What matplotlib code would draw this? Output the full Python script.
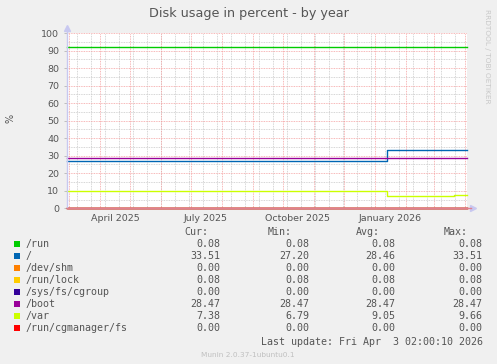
import datetime as dt
import matplotlib
matplotlib.use("Agg")
import matplotlib.pyplot as plt

# --- data ---
t_end = dt.datetime(2026, 4, 3, 2, 0, 10)
t_start = t_end - dt.timedelta(days=400)
t_step = dt.datetime(2026, 1, 13)
t_var2 = dt.datetime(2026, 3, 21)

names = ["/run", "/", "/dev/shm", "/run/lock", "/sys/fs/cgroup", "/boot", "/var", "/run/cgmanager/fs"]
colors = ["#00CC00", "#0066B3", "#FF8000", "#FFCC00", "#330099", "#990099", "#CCFF00", "#FF0000"]

series_t = [
    [t_start, t_end],
    [t_start, t_step, t_end],
    [t_start, t_end],
    [t_start, t_end],
    [t_start, t_end],
    [t_start, t_end],
    [t_start, t_step, t_var2, t_end],
    [t_start, t_end],
]
series_v = [
    [92.0, 92.0],
    [27.2, 33.51, 33.51],
    [0.0, 0.0],
    [0.08, 0.08],
    [0.0, 0.0],
    [28.47, 28.47],
    [9.66, 6.79, 7.38, 7.38],
    [0.0, 0.0],
]

cur = ["0.08", "33.51", "0.00", "0.08", "0.00", "28.47", "7.38", "0.00"]
vmin = ["0.08", "27.20", "0.00", "0.08", "0.00", "28.47", "6.79", "0.00"]
vavg = ["0.08", "28.46", "0.00", "0.08", "0.00", "28.47", "9.05", "0.00"]
vmax = ["0.08", "33.51", "0.00", "0.08", "0.00", "28.47", "9.66", "0.00"]

x_labels = ["April 2025", "July 2025", "October 2025", "January 2026"]
x_label_dates = [dt.datetime(2025, 4, 16), dt.datetime(2025, 7, 16),
                 dt.datetime(2025, 10, 16), dt.datetime(2026, 1, 16)]

W, H = 497, 364
fig = plt.figure(figsize=(W / 100, H / 100), dpi=100)
fig.patch.set_facecolor("#F0F0F0")

x0, x1, y0, y1 = 67, 467, 208.3, 33.0
ax = fig.add_axes([x0 / W, 1 - y0 / H, (x1 - x0) / W, (y0 - y1) / H])
ax.set_facecolor("white")
ax.set_xlim(t_start, t_end)
ax.set_ylim(0, 100)

txt = "#555555"
mono = "DejaVu Sans Mono"

# grid: minor grey, major red, both dotted
month_starts = [dt.datetime(2025 + (m - 1) // 12, (m - 1) % 12 + 1, 1) for m in range(3, 17)]
biweek = []
d = dt.datetime(2026, 3, 22)
while d > t_start:
    biweek.append(d)
    d -= dt.timedelta(days=14)
for d in biweek:
    ax.axvline(d, color="#C8C8C8", lw=0.6, ls=(0, (1, 1)), zorder=1)
for v in range(5, 100, 10):
    ax.axhline(v, color="#C8C8C8", lw=0.6, ls=(0, (1, 1)), zorder=1)
for d in month_starts:
    if t_start < d < t_end:
        ax.axvline(d, color="#F5A0A0", lw=0.6, ls=(0, (1, 1)), zorder=1)
for v in range(10, 101, 10):
    ax.axhline(v, color="#F5A0A0", lw=0.6, ls=(0, (1, 1)), zorder=1)

for t, v, c in zip(series_t, series_v, colors):
    ax.plot(t, v, color=c, lw=1.0, drawstyle="steps-post", zorder=3, clip_on=False)

for s in ax.spines.values():
    s.set_visible(False)
ax.plot([0, 0], [0, 1.02], transform=ax.transAxes, color="#C8C8F0", lw=1, clip_on=False, zorder=4)
ax.plot([0, 1.01], [0, 0], transform=ax.transAxes, color="#E08090", lw=1, clip_on=False, zorder=4)
ax.plot([0], [1.03], marker="^", ms=4, color="#C8C8F0", transform=ax.transAxes, clip_on=False)
ax.plot([1.015], [0], marker=">", ms=4, color="#C8C8F0", transform=ax.transAxes, clip_on=False)

ax.set_yticks(range(0, 101, 10))
ax.set_xticks(x_label_dates)
ax.set_xticklabels(x_labels)
ax.tick_params(axis="y", length=2, width=0.5, color="#AAAAAA", pad=3.5, labelsize=6.8, labelcolor=txt)
ax.tick_params(axis="x", length=0, pad=4, labelsize=6.8, labelcolor=txt)

fig.text(249 / W, 1 - 13.5 / H, "Disk usage in percent - by year", ha="center", va="center",
         fontsize=9.2, color=txt)
fig.text(10 / W, 1 - 118 / H, "%", ha="center", va="center", rotation=90, fontsize=7, color=txt)
fig.text(487 / W, 1 - 56 / H, "RRDTOOL / TOBI OETIKER", ha="center", va="center", rotation=270,
         fontsize=5.3, color="#C8C8C8")

# legend table
fs = 7.2
hy = 232.3
fig.text(208 / W, 1 - hy / H, "Cur:", ha="right", va="center", fontsize=fs, family=mono, color=txt)
fig.text(291.7 / W, 1 - hy / H, "Min:", ha="right", va="center", fontsize=fs, family=mono, color=txt)
fig.text(380 / W, 1 - hy / H, "Avg:", ha="right", va="center", fontsize=fs, family=mono, color=txt)
fig.text(467.3 / W, 1 - hy / H, "Max:", ha="right", va="center", fontsize=fs, family=mono, color=txt)
for i, n in enumerate(names):
    yy = 1 - (244.3 + 12 * i) / H
    fig.patches.append(plt.Rectangle((14 / W, yy - 3 / H), 6 / W, 6 / H, transform=fig.transFigure,
                                     facecolor=colors[i], edgecolor="none"))
    fig.text(26 / W, yy, n, ha="left", va="center", fontsize=fs, family=mono, color=txt)
    fig.text(220.7 / W, yy, cur[i], ha="right", va="center", fontsize=fs, family=mono, color=txt)
    fig.text(309.3 / W, yy, vmin[i], ha="right", va="center", fontsize=fs, family=mono, color=txt)
    fig.text(395.7 / W, yy, vavg[i], ha="right", va="center", fontsize=fs, family=mono, color=txt)
    fig.text(482.3 / W, yy, vmax[i], ha="right", va="center", fontsize=fs, family=mono, color=txt)
fig.text(483.3 / W, 1 - 342 / H, "Last update: Fri Apr  3 02:00:10 2026", ha="right", va="center",
         fontsize=fs, family=mono, color=txt)
fig.text(248 / W, 1 - 355 / H, "Munin 2.0.37-1ubuntu0.1", ha="center", va="center",
         fontsize=5.3, color="#C0C0C0")

fig.savefig("out.png", dpi=100, facecolor=fig.get_facecolor())
